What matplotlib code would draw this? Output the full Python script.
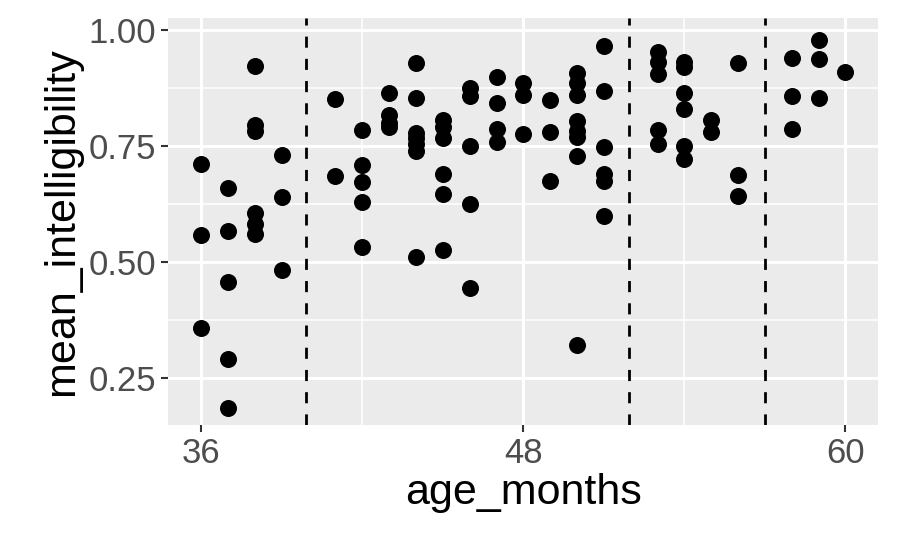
import numpy as np
import matplotlib as mpl
mpl.use('Agg')
import matplotlib.pyplot as plt

# age (months) and mean intelligibility, read column by column
ages = [36]*3 + [37]*5 + [38]*6 + [39]*3 + [41]*2 + [42]*5 + [43]*4 + [44]*7 \
    + [45]*6 + [46]*5 + [47]*4 + [48]*3 + [49]*3 + [50]*8 + [51]*6 + [53]*5 \
    + [54]*6 + [55]*2 + [56]*3 + [58]*3 + [59]*3 + [60]*1
intel = [0.711, 0.558, 0.358,
         0.66, 0.567, 0.457, 0.291, 0.185,
         0.922, 0.795, 0.782, 0.606, 0.582, 0.56,
         0.73, 0.64, 0.483,
         0.851, 0.685,
         0.784, 0.709, 0.672, 0.629, 0.532,
         0.864, 0.817, 0.80, 0.791,
         0.929, 0.853, 0.778, 0.767, 0.754, 0.739, 0.511,
         0.806, 0.791, 0.767, 0.69, 0.647, 0.526,
         0.875, 0.858, 0.75, 0.625, 0.444,
         0.899, 0.843, 0.787, 0.759,
         0.886, 0.86, 0.776,
         0.849, 0.78, 0.675,
         0.907, 0.886, 0.86, 0.804, 0.782, 0.769, 0.728, 0.321,
         0.966, 0.869, 0.748, 0.69, 0.675, 0.599,
         0.953, 0.931, 0.905, 0.784, 0.754,
         0.931, 0.92, 0.864, 0.83, 0.75, 0.722,
         0.806, 0.78,
         0.929, 0.688, 0.642,
         0.94, 0.858, 0.787,
         0.978, 0.937, 0.853,
         0.909]
cutoffs = [39.9, 51.95, 57.02]
xticks = [36, 48, 60]
yticks = [0.25, 0.50, 0.75, 1.00]

plt.rcParams['font.family'] = ['Liberation Sans', 'DejaVu Sans']
fig = plt.figure(figsize=(9, 5.56), dpi=100)
ax = fig.add_axes([0.187, 0.236, 0.789, 0.732])
ax.set_facecolor('#EBEBEB')
for s in ax.spines.values():
    s.set_visible(False)

ax.set_xlim(34.77, 61.23)
ax.set_ylim(0.149, 1.026)
ax.set_xticks(xticks)
ax.set_yticks(yticks)
ax.set_yticklabels(['%.2f' % v for v in yticks])
ax.set_xticks([42, 54], minor=True)
ax.set_yticks([0.375, 0.625, 0.875], minor=True)
ax.grid(True, which='major', color='white', lw=2.2)
ax.grid(True, which='minor', color='white', lw=1.1)
ax.set_axisbelow(True)
ax.tick_params(which='major', length=5, width=1.5, color='#333333',
               labelsize=25, labelcolor='#4D4D4D', pad=4)
ax.tick_params(which='minor', length=0)

ax.scatter(ages, intel, s=150, color='black', zorder=3, lw=0)
for c in cutoffs:
    ax.axvline(c, color='black', ls=(0, (4, 4)), lw=2, zorder=2)

ax.set_xlabel('age_months', fontsize=31, labelpad=2)
ax.set_ylabel('mean_intelligibility', fontsize=31, labelpad=4)

fig.savefig('out.png', dpi=100)
